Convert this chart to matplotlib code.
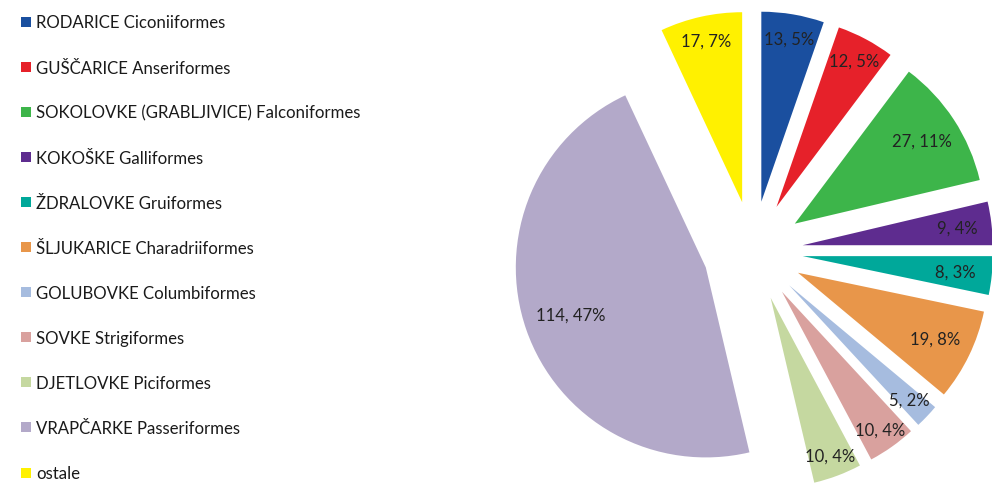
import numpy as np
import matplotlib.pyplot as plt
from matplotlib.patches import Rectangle

plt.rcParams['font.family'] = ['Lato', 'DejaVu Sans']

# Bird orders and number of species in each
orders = ["RODARICE Ciconiiformes", "GUŠČARICE Anseriformes",
          "SOKOLOVKE (GRABLJIVICE) Falconiformes", "KOKOŠKE Galliformes",
          "ŽDRALOVKE Gruiformes", "ŠLJUKARICE Charadriiformes",
          "GOLUBOVKE Columbiformes", "SOVKE Strigiformes",
          "DJETLOVKE Piciformes", "VRAPČARKE Passeriformes", "ostale"]
counts = [13, 12, 27, 9, 8, 19, 5, 10, 10, 114, 17]

colors = ["#1a4f9f", "#e6212a", "#3db54a", "#5e2c8f", "#00a89a", "#e8964a",
          "#a6bcdf", "#d9a19e", "#c5d8a0", "#b3a9c9", "#fff100"]
# how far out along each wedge its label sits (fraction of radius)
label_r = [0.87, 0.87, 0.80, 0.82, 0.81, 0.80, 0.87, 0.89, 0.89, 0.75, 0.87]

W, H = 992, 485
R = 190.0                 # pie radius in pixels
cx, cy = 753, H - 252     # pie centre in pixels (from bottom-left)

fig = plt.figure(figsize=(W / 100, H / 100), dpi=100)
ax = fig.add_axes([0, 0, 1, 1])

wedges, _ = ax.pie(counts, colors=colors, startangle=90, counterclock=False,
                   explode=[0.263] * len(counts), radius=1.0)
ax.set_xlim(-cx / R, (W - cx) / R)
ax.set_ylim(-cy / R, (H - cy) / R)
ax.set_aspect('auto')
ax.axis('off')

total = sum(counts)
for w, n, f in zip(wedges, counts, label_r):
    mid = np.deg2rad((w.theta1 + w.theta2) / 2)
    x0, y0 = w.center
    ax.text(x0 + f * w.r * np.cos(mid), y0 + f * w.r * np.sin(mid),
            f"{n}, {round(100 * n / total)}%", ha='center', va='center',
            fontsize=12, color='#222222')

# legend down the left side
for i, (name, c) in enumerate(zip(orders, colors)):
    y = H - (23.5 + i * 45.1)
    fig.add_artist(Rectangle((21 / W, (y - 4) / H), 10 / W, 10 / H,
                             transform=fig.transFigure, color=c, lw=0))
    fig.text(36 / W, y / H, name, fontsize=12.1, va='center', ha='left',
             color='#1a1a1a')

fig.savefig("out.png", dpi=100)
